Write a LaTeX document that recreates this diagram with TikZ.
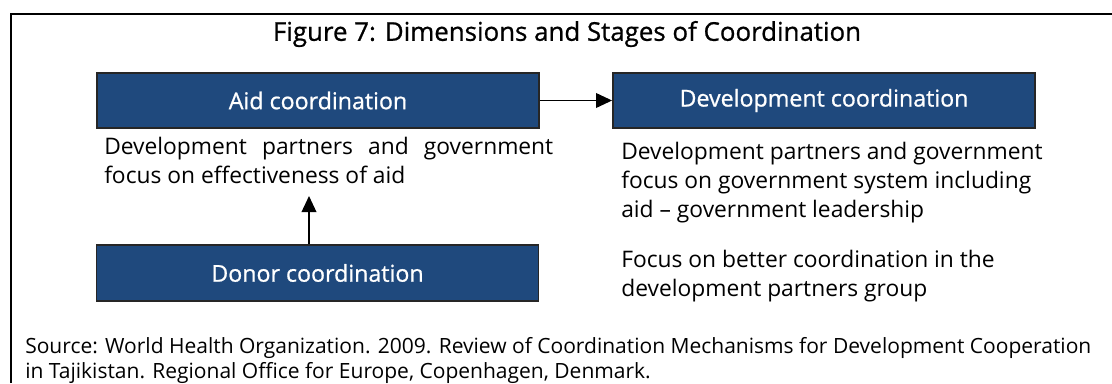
\documentclass[tikz,border=0pt]{standalone}
\usepackage{fontspec}
\setmainfont{Open Sans}
\newfontfamily\headfont[FakeBold=0.8]{Open Sans}
\usetikzlibrary{arrows.meta,positioning}
\definecolor{boxblue}{RGB}{31,73,125}
\hyphenpenalty=10000
\begin{document}
\begin{tikzpicture}[x=0.75pt,y=-0.75pt]
\tikzset{stagebox/.style={draw=black!85,line width=1.4pt,fill=boxblue,text=white,
    minimum width=331.5pt,minimum height=41pt,inner sep=0pt,
    font=\headfont\fontsize{17.4}{20}\selectfont},
  bodytext/.style={anchor=north west,inner sep=0pt,font=\fontsize{17.1}{21.75}\selectfont},
  flowarrow/.style={line width=1.1pt,-{Triangle[length=12pt,width=11pt]}}}
\useasboundingbox (0,0) rectangle (1112,383);
% Draw the frame
\draw[line width=2.2pt] (11,383) -- (11,14) -- (1112,14);
% the title
\node (title) at (567,34) {\headfont\fontsize{19.4}{22}\selectfont Figure 7: Dimensions and Stages of Coordination};
% the boxes
\node[stagebox] (aid) at (318,100.5) {Aid coordination};
\node[stagebox,minimum width=316.5pt] (dev) at (824,100.5) {Development coordination};
\node[stagebox,minimum height=42pt] (donor) at (317.5,273) {Donor coordination};
% the arrows
\coordinate (tip) at (309,196);
\draw[flowarrow] (aid.east) -- (dev.west);
\draw[flowarrow] (donor.north -| tip) -- (tip);
% the texts
\node[bodytext,text width=336.75pt,align=justify] (aidtxt) at (104,137)
  {Development partners and government\linebreak focus on effectiveness of aid};
\node[bodytext,align=left] (devtxt) at (621,142)
  {Development partners and government\\focus on government system including\\aid -- government leadership};
\node[bodytext,align=left] (donortxt) at (621,250)
  {Focus on better coordination in the\\development partners group};
\node[bodytext,font=\fontsize{15.75}{18.75}\selectfont,align=left] (source) at (25,337)
  {Source: World Health Organization. 2009. Review of Coordination Mechanisms for Development Cooperation\\in Tajikistan. Regional Office for Europe, Copenhagen, Denmark.};
\end{tikzpicture}
\end{document}
